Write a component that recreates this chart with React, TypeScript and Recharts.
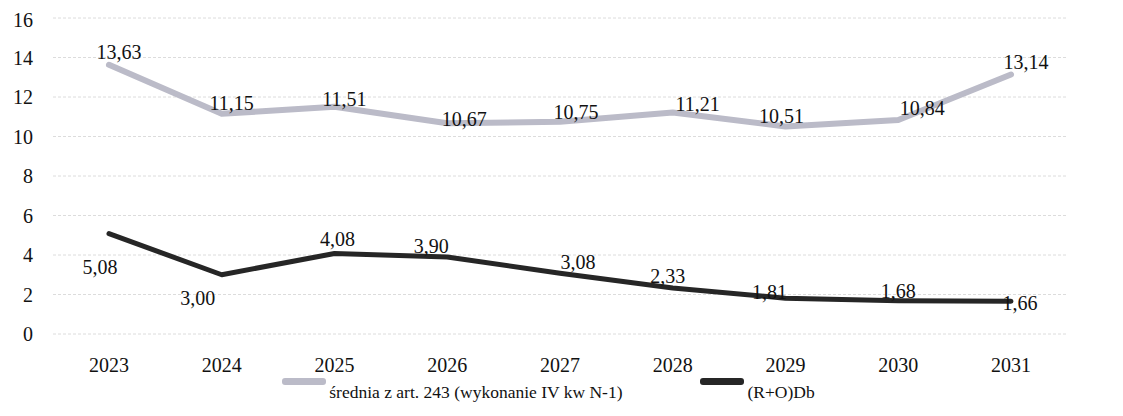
import React from "react";
import {
  LineChart,
  Line,
  XAxis,
  YAxis,
  CartesianGrid,
  Legend,
  LabelList,
} from "recharts";

const years = ["2023", "2024", "2025", "2026", "2027", "2028", "2029", "2030", "2031"];
const sredniaValues = [13.63, 11.15, 11.51, 10.67, 10.75, 11.21, 10.51, 10.84, 13.14];
const roDbValues = [5.08, 3.0, 4.08, 3.9, 3.08, 2.33, 1.81, 1.68, 1.66];
const yTicks = [0, 2, 4, 6, 8, 10, 12, 14, 16];

const sredniaName = "średnia z art. 243 (wykonanie IV kw N-1)";
const roDbName = "(R+O)Db";

// label nudges (dx, dy from the point)
const sredniaNudge = [
  [10, -13], [10, -11], [10, -8], [17, -4], [16, -10],
  [25, -9], [-4, -10], [24, -12], [15, -12],
];
const roDbNudge = [
  [-9, 33], [-24, 23], [3, -14], [-16, -11], [18, -11],
  [-5, -12], [-16, -6], [0, -10], [9, 2],
];

const data = years.map((year, i) => ({
  year,
  srednia: sredniaValues[i],
  roDb: roDbValues[i],
}));

const FONT =
  '"Liberation Serif", "Times New Roman", Times, Tinos, "Noto Serif", "DejaVu Serif", serif';
const GRAY = "#bbbbc8";
const DARK = "#262626";

const fmt = (v: number) => v.toFixed(2).replace(".", ",");

function makeLabel(nudge: number[][]) {
  return (props: any) => {
    const { x, y, value, index } = props;
    const [dx, dy] = nudge[index] || [0, -12];
    return (
      <text
        x={x + dx}
        y={y + dy}
        textAnchor="middle"
        dominantBaseline="central"
        style={{ fontSize: 20, fontFamily: FONT }}
        fill="#111"
      >
        {fmt(value)}
      </text>
    );
  };
}

function LegendBox() {
  const item = (color: string, label: string) => (
    <div style={{ display: "flex", alignItems: "flex-start" }}>
      <div
        style={{
          width: 44,
          height: 7,
          background: color,
          borderRadius: 3,
          marginRight: 3,
        }}
      />
      <span style={{ fontSize: 17.5, fontFamily: FONT, color: "#111", lineHeight: "20px", marginTop: 4 }}>
        {label}
      </span>
    </div>
  );
  return (
    <div
      style={{
        display: "flex",
        justifyContent: "center",
        gap: 78,
        marginLeft: 22,
        marginTop: -6,
        height: 24,
      }}
    >
      {item(GRAY, sredniaName)}
      {item(DARK, roDbName)}
    </div>
  );
}

const tickStyle = { fontSize: 20, fontFamily: FONT, fill: "#111" };

export default function App() {
  return (
    <div style={{ width: 1107, height: 400, position: "relative", fontFamily: FONT }}>
      <LineChart width={1107} height={400} data={data} margin={{ top: 10, right: 48, left: 0, bottom: 0 }}>
        <CartesianGrid vertical={false} stroke="#dcdcdc" strokeDasharray="3 2" />
        <XAxis
          dataKey="year"
          axisLine={false}
          tickLine={false}
          tickSize={0}
          tickMargin={24}
          height={50}
          padding={{ left: 56, right: 56 }}
          tick={tickStyle}
        />
        <YAxis
          domain={[0, 16]}
          ticks={yTicks}
          axisLine={false}
          tickLine={false}
          tickSize={0}
          tickMargin={20}
          width={45}
          tick={tickStyle}
        />
        <Legend verticalAlign="bottom" height={24} content={() => <LegendBox />} />
        <Line
          dataKey="srednia"
          name={sredniaName}
          stroke={GRAY}
          strokeWidth={6}
          dot={false}
          strokeLinecap="round"
          strokeLinejoin="round"
          isAnimationActive={false}
        >
          <LabelList dataKey="srednia" content={makeLabel(sredniaNudge)} />
        </Line>
        <Line
          dataKey="roDb"
          name={roDbName}
          stroke={DARK}
          strokeWidth={5}
          dot={false}
          strokeLinecap="round"
          strokeLinejoin="round"
          isAnimationActive={false}
        >
          <LabelList dataKey="roDb" content={makeLabel(roDbNudge)} />
        </Line>
      </LineChart>
    </div>
  );
}
